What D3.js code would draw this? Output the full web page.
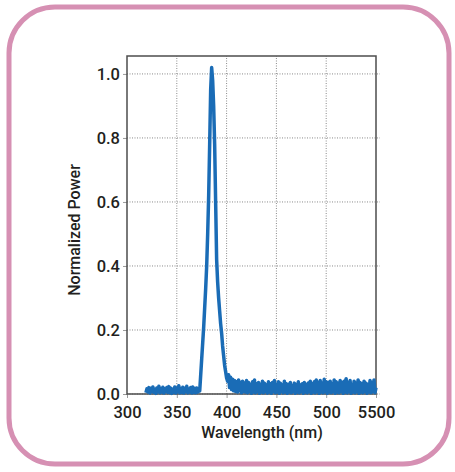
<!DOCTYPE html>
<html>
<head>
  <meta charset="utf-8">
  <title>Normalized Power Spectrum</title>
  <script src="https://cdnjs.cloudflare.com/ajax/libs/d3/7.8.5/d3.min.js"></script>
  <style>
    body { margin: 0; background: #fff; }
    text { font-family: "Roboto", Arial, sans-serif; font-weight: 500; fill: #231f20; }
  </style>
</head>
<body>
  <svg id="chart"></svg>
  <script>
    // Spectrum values, sampled every 1 nm starting at 319 nm
    const startNm = 319;
    const baselineBefore = [0.004,0.016,0.006,0.020,0.003,0.018,0.008,0.022,0.005,0.015,0.002,0.019,0.007,0.024,0.004,0.017,0.006,0.021,0.003,0.016,0.008,0.020,0.005,0.023,0.004,0.018,0.002,0.015,0.006,0.022,0.003,0.019,0.007,0.026,0.004,0.017,0.005,0.021,0.003,0.018,0.008,0.024,0.004,0.016,0.006,0.020,0.003,0.022,0.005,0.017,0.004,0.019,0.006,0.012];
    const peak = [0.01,0.06,0.11,0.16,0.21,0.27,0.33,0.40,0.50,0.62,0.78,0.95,1.02,0.98,0.90,0.78,0.60,0.42,0.35,0.30,0.26,0.22,0.19,0.15,0.12,0.09,0.07,0.05];
    const baselineAfter = [
      0.040,0.060,0.020,0.052,0.014,0.046,0.010,0.042,0.008,0.038,0.006,0.044,0.010,0.036,0.004,0.040,0.008,0.034,0.006,0.042,
      0.004,0.036,0.008,0.030,0.002,0.038,0.006,0.044,0.004,0.032,0.008,0.036,0.002,0.030,0.006,0.040,0.004,0.034,0.008,0.028,
      0.003,0.038,0.006,0.032,0.002,0.036,0.008,0.042,0.004,0.030,0.006,0.038,0.002,0.034,0.008,0.028,0.004,0.040,0.006,0.032,
      0.002,0.030,0.006,0.036,0.004,0.026,0.008,0.034,0.002,0.030,0.006,0.038,0.004,0.028,0.008,0.032,0.002,0.036,0.006,0.030,
      0.004,0.034,0.008,0.040,0.002,0.032,0.006,0.038,0.004,0.044,0.008,0.036,0.002,0.042,0.006,0.034,0.004,0.046,0.008,0.038,
      0.002,0.036,0.006,0.040,0.004,0.032,0.008,0.044,0.002,0.038,0.006,0.034,0.004,0.042,0.008,0.036,0.002,0.040,0.006,0.048,
      0.004,0.036,0.008,0.042,0.002,0.030,0.006,0.040,0.004,0.034,0.008,0.044,0.002,0.036,0.006,0.032,0.004,0.040,0.008,0.034,
      0.002,0.030,0.006,0.042,0.004,0.036,0.008,0.044,0.004,0.020];
    const xTicks = [300, 350, 400, 450, 500, 550];
    const xTickLabels = ["300", "350", "400", "450", "500", "5500"];
    const yTicks = [0, 0.2, 0.4, 0.6, 0.8, 1.0];

    const power = baselineBefore.concat(peak, baselineAfter);
    const data = power.map((p, i) => ({ nm: startNm + i, p: p }));

    const width = 455, height = 472;
    const margin = { left: 127, right: 79, top: 56, bottom: 78 };

    const svg = d3.select("#chart")
      .attr("width", width)
      .attr("height", height);

    /** Pink rounded frame */
    svg.append("rect")
      .attr("x", 9).attr("y", 7)
      .attr("width", 440).attr("height", 457)
      .attr("rx", 46).attr("ry", 46)
      .attr("fill", "none")
      .attr("stroke", "#d690b3")
      .attr("stroke-width", 5);

    const x = d3.scaleLinear()
      .domain([300, 550])
      .range([margin.left, width - margin.right]);

    const y = d3.scaleLinear()
      .domain([0, 1.056])
      .range([height - margin.bottom, margin.top]);

    /** Dotted grid */
    const grid = svg.append("g")
      .attr("stroke", "#8a8a8a")
      .attr("stroke-width", 1)
      .attr("stroke-dasharray", "1,1.5");
    grid.selectAll(".gx")
      .data(xTicks.slice(1, -1))
      .join("line")
      .attr("class", "gx")
      .attr("x1", d => x(d)).attr("x2", d => x(d))
      .attr("y1", y.range()[0]).attr("y2", y.range()[1]);
    grid.selectAll(".gy")
      .data(yTicks)
      .join("line")
      .attr("class", "gy")
      .attr("x1", x.range()[0]).attr("x2", x.range()[1] + 4)
      .attr("y1", d => y(d)).attr("y2", d => y(d));

    /** Axes */
    const xAxis = svg.append("g")
      .attr("transform", `translate(0,${y(0)})`)
      .call(d3.axisBottom(x).tickValues(xTicks).tickFormat((d, i) => xTickLabels[i]).tickSize(4).tickPadding(8));
    const yAxis = svg.append("g")
      .attr("transform", `translate(${x(300)},0)`)
      .call(d3.axisLeft(y).tickValues(yTicks).tickFormat(d3.format(".1f")).tickSize(4).tickPadding(3));
    [xAxis, yAxis].forEach(g => {
      g.select(".domain").remove();
      g.selectAll(".tick line").attr("stroke", "#9a9a9a");
      g.selectAll("text").attr("font-size", 16.5).attr("fill", "#231f20");
    });

    /** Plot frame */
    svg.append("rect")
      .attr("x", x.range()[0]).attr("y", y.range()[1])
      .attr("width", x.range()[1] - x.range()[0])
      .attr("height", y.range()[0] - y.range()[1])
      .attr("fill", "none")
      .attr("stroke", "#4d4d4d")
      .attr("stroke-width", 1.5);

    /** Spectrum line */
    const line = d3.line()
      .x(d => x(d.nm))
      .y(d => y(d.p));
    svg.append("path")
      .datum(data)
      .attr("fill", "none")
      .attr("stroke", "#1a6cb6")
      .attr("stroke-width", 3.5)
      .attr("stroke-linejoin", "round")
      .attr("d", line);

    /** Axis titles */
    svg.append("text")
      .attr("x", 262).attr("y", 438)
      .attr("text-anchor", "middle")
      .attr("font-size", 16)
      .text("Wavelength (nm)");
    svg.append("text")
      .attr("transform", "translate(80,230) rotate(-90)")
      .attr("text-anchor", "middle")
      .attr("font-size", 16)
      .text("Normalized Power");
  </script>
</body>
</html>
